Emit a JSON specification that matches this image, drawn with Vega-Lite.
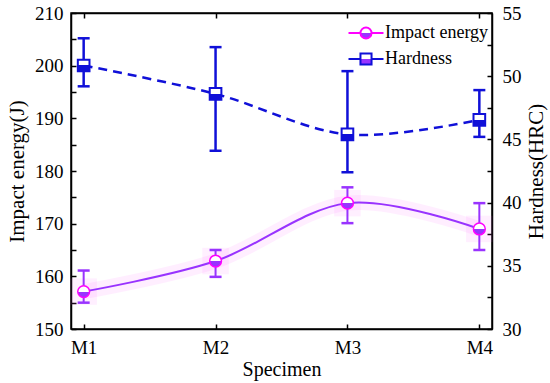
{
  "$schema": "https://vega.github.io/schema/vega-lite/v6.json",
  "width": 421,
  "height": 316,
  "autosize": "none",
  "padding": {"left": 71, "top": 13, "right": 58, "bottom": 54},
  "background": "white",
  "config": {
    "view": {"stroke": "black", "strokeWidth": 1.5},
    "font": "Liberation Serif",
    "axis": {
      "labelFont": "Liberation Serif", "titleFont": "Liberation Serif",
      "labelFontSize": 19, "titleFontSize": 20, "titleFontWeight": "normal",
      "labelColor": "black", "titleColor": "black",
      "domainColor": "black", "domainWidth": 1.5,
      "tickColor": "black", "tickWidth": 1.5, "tickSize": -5,
      "grid": false, "labelOverlap": false
    },
    "legend": {"labelFont": "Liberation Serif", "labelFontSize": 18, "labelColor": "black"}
  },
  "datasets": {
    "impact": [
      {"specimen": "M1", "value": 157.1, "lo": 155.0, "hi": 161.1, "series": "Impact energy"},
      {"specimen": "M2", "value": 162.9, "lo": 159.9, "hi": 165.0, "series": "Impact energy"},
      {"specimen": "M3", "value": 173.9, "lo": 170.1, "hi": 176.9, "series": "Impact energy"},
      {"specimen": "M4", "value": 169.0, "lo": 165.0, "hi": 173.9, "series": "Impact energy"}
    ],
    "hardness": [
      {"specimen": "M1", "value": 50.85, "lo": 49.2, "hi": 53.0, "series": "Hardness"},
      {"specimen": "M2", "value": 48.6, "lo": 44.1, "hi": 52.3, "series": "Hardness"},
      {"specimen": "M3", "value": 45.4, "lo": 42.4, "hi": 50.4, "series": "Hardness"},
      {"specimen": "M4", "value": 46.55, "lo": 45.2, "hi": 48.9, "series": "Hardness"}
    ]
  },
  "layer": [
    {
      "data": {"name": "impact"},
      "encoding": {
        "x": {
          "field": "specimen", "type": "ordinal",
          "scale": {"type": "point", "padding": 0.096, "domain": ["M1", "M2", "M3", "M4"]},
          "axis": {"orient": "bottom", "title": "Specimen", "labelAngle": 0, "labelPadding": 14, "titlePadding": 2}
        },
        "y": {
          "field": "value", "type": "quantitative",
          "scale": {"domain": [150, 210], "nice": false, "zero": false},
          "axis": {
            "orient": "left", "title": "Impact energy(J)", "titleFontSize": 21,
            "values": [150, 155, 160, 165, 170, 175, 180, 185, 190, 195, 200, 205, 210],
            "labelExpr": "datum.value % 10 === 0 ? datum.label : ''",
            "labelPadding": 13, "titlePadding": 7
          }
        }
      },
      "layer": [
        {"mark": {"type": "line", "interpolate": "cardinal", "strokeWidth": 15, "color": "#ff66ff", "opacity": 0.11}},
        {"mark": {"type": "point", "shape": "square", "size": 700, "filled": true, "color": "#ff66ff", "opacity": 0.1}},
        {"mark": {"type": "line", "interpolate": "cardinal", "strokeWidth": 2, "color": "#9933ff"}},
        {"mark": {"type": "rule", "strokeWidth": 2, "color": "#9933ff"},
         "encoding": {"y": {"field": "lo", "type": "quantitative"}, "y2": {"field": "hi"}}},
        {"mark": {"type": "tick", "thickness": 2.5, "size": 12, "color": "#9933ff", "opacity": 1},
         "encoding": {"y": {"field": "lo", "type": "quantitative"}}},
        {"mark": {"type": "tick", "thickness": 2.5, "size": 12, "color": "#9933ff", "opacity": 1},
         "encoding": {"y": {"field": "hi", "type": "quantitative"}}},
        {"mark": {"type": "point", "shape": "circle", "size": 140, "filled": true, "opacity": 1, "strokeWidth": 1.5,
                  "fill": {"gradient": "linear", "x1": 0, "y1": 0, "x2": 0, "y2": 1,
                           "stops": [{"offset": 0, "color": "#ffffff"}, {"offset": 0.5, "color": "#ffffff"}, {"offset": 0.5, "color": "#9933ff"}, {"offset": 1, "color": "#9933ff"}]}},
         "encoding": {
           "stroke": {
             "field": "series", "type": "nominal",
             "scale": {"domain": ["Impact energy", "Hardness"], "range": ["#ff00ff", "#1010d8"]},
             "legend": {
               "title": null, "orient": "none", "legendX": 274, "legendY": 11,
               "symbolSize": 136, "symbolStrokeWidth": 2, "symbolOffset": 12,
               "symbolType": {"expr": "datum.label === 'Hardness' ? 'M-3,0H-0.95M0.95,0H3M-0.95,-0.95H0.95V0.95H-0.95Z' : 'M-3,0H-0.95M0.95,0H3M0.95,0A0.95,0.95 0 1 1 -0.95,0A0.95,0.95 0 1 1 0.95,0Z'"},
               "labelOffset": 10, "rowPadding": 6,
               "encode": {
                 "symbols": {
                   "fill": {"value": {"expr": "datum.label === 'Hardness' ? {gradient: 'linear', x1: 0, y1: 0, x2: 0, y2: 1, stops: [{offset: 0, color: '#ffffff'}, {offset: 0.5, color: '#ffffff'}, {offset: 0.5, color: '#1010d8'}, {offset: 1, color: '#1010d8'}]} : {gradient: 'linear', x1: 0, y1: 0, x2: 0, y2: 1, stops: [{offset: 0, color: '#ffffff'}, {offset: 0.5, color: '#ffffff'}, {offset: 0.5, color: '#ff00ff'}, {offset: 1, color: '#ff00ff'}]}"}},
                   "strokeWidth": {"value": 2},
                   "opacity": {"value": 1}
                 }
               }
             }
           }
         }}
      ]
    },
    {
      "data": {"name": "hardness"},
      "encoding": {
        "x": {
          "field": "specimen", "type": "ordinal",
          "scale": {"type": "point", "padding": 0.096, "domain": ["M1", "M2", "M3", "M4"]},
          "axis": {"orient": "top", "title": null, "labels": false}
        },
        "y": {
          "field": "value", "type": "quantitative",
          "scale": {"domain": [30, 55], "nice": false, "zero": false},
          "axis": {
            "orient": "right", "title": "Hardness(HRC)", "titleAngle": 270, "titleBaseline": "top", "titleFontSize": 21,
            "values": [30, 32.5, 35, 37.5, 40, 42.5, 45, 47.5, 50, 52.5, 55],
            "labelExpr": "datum.value % 5 === 0 ? datum.label : ''",
            "labelPadding": 15, "titlePadding": 4
          }
        }
      },
      "layer": [
        {"mark": {"type": "line", "interpolate": "cardinal", "strokeWidth": 2.5, "strokeDash": [9, 6], "color": "#1010d8"}},
        {"mark": {"type": "rule", "strokeWidth": 2.5, "color": "#1010d8"},
         "encoding": {"y": {"field": "lo", "type": "quantitative"}, "y2": {"field": "hi"}}},
        {"mark": {"type": "tick", "thickness": 2.5, "size": 12, "color": "#1010d8", "opacity": 1},
         "encoding": {"y": {"field": "lo", "type": "quantitative"}}},
        {"mark": {"type": "tick", "thickness": 2.5, "size": 12, "color": "#1010d8", "opacity": 1},
         "encoding": {"y": {"field": "hi", "type": "quantitative"}}},
        {"mark": {"type": "point", "shape": "square", "size": 136, "filled": true, "opacity": 1, "strokeWidth": 2,
                  "fill": {"gradient": "linear", "x1": 0, "y1": 0, "x2": 0, "y2": 1,
                           "stops": [{"offset": 0, "color": "#ffffff"}, {"offset": 0.5, "color": "#ffffff"}, {"offset": 0.5, "color": "#1010d8"}, {"offset": 1, "color": "#1010d8"}]}},
         "encoding": {"stroke": {"field": "series", "type": "nominal"}}}
      ]
    }
  ],
  "resolve": {"scale": {"y": "independent", "x": "independent"}}
}
